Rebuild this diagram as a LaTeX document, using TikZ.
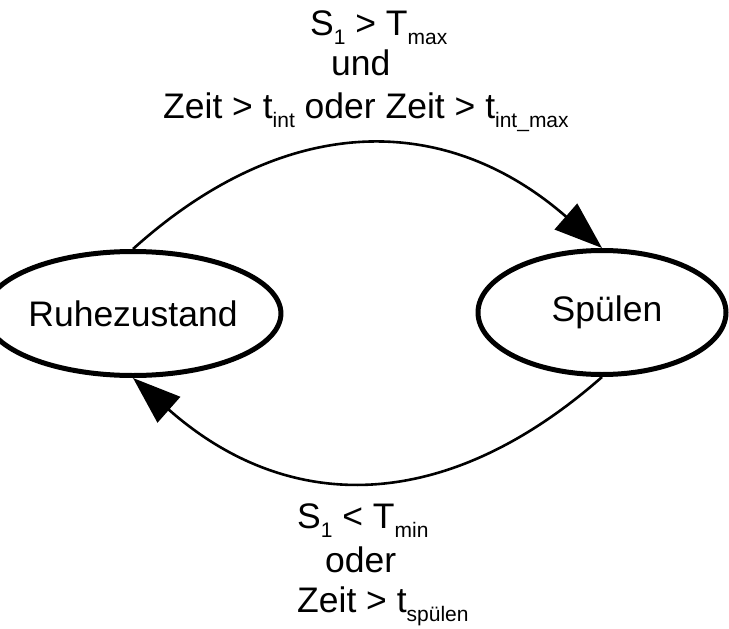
\documentclass[tikz,border=0pt]{standalone}
\usepackage{fontspec}
\setmainfont{Liberation Sans}
\usetikzlibrary{shapes.geometric,arrows.meta}
% lowered, smaller index text
\newcommand{\subtxt}[1]{\raisebox{-9pt}{\fontsize{21}{21}\selectfont #1}}
\tikzset{
  statebox/.style={ellipse, draw, line width=5pt, minimum width=248pt,
    minimum height=124pt, inner sep=0pt, font=\fontsize{35.5}{42}\selectfont},
  cond/.style={anchor=base west, inner sep=0pt, font=\fontsize{35.5}{42}\selectfont},
  trans/.style={line width=2.6pt, -{Triangle[length=48pt,width=34pt]}},
}
\begin{document}
\begin{tikzpicture}[x=1pt,y=-1pt]
\useasboundingbox (0,0) rectangle (729,629);

% the two states
\node[statebox] (rest) at (133,313.5) {Ruhezustand};
\node[statebox] (flush) at (602,312.5) {\hspace*{10pt}Spülen};

% transition conditions, top
\node[cond] (t1) at (310,35) {S\subtxt{1} > T\subtxt{max}};
\node[cond] (t2) at (331,75) {und};
\node[cond] (t3) at (163,118) {Zeit > t\subtxt{int} oder Zeit > t\subtxt{int\_max}};

% transition conditions, bottom
\node[cond] (b1) at (297,528) {S\subtxt{1} < T\subtxt{min}};
\node[cond] (b2) at (325,572) {oder};
\node[cond] (b3) at (297,612) {Zeit > t\subtxt{spülen}};

% transitions
\draw[trans] (rest.north) .. controls (285,112) and (445,111) .. (flush.north);
\draw[trans] (flush.south) .. controls (445,515) and (288,515) .. (rest.south);
\end{tikzpicture}
\end{document}
